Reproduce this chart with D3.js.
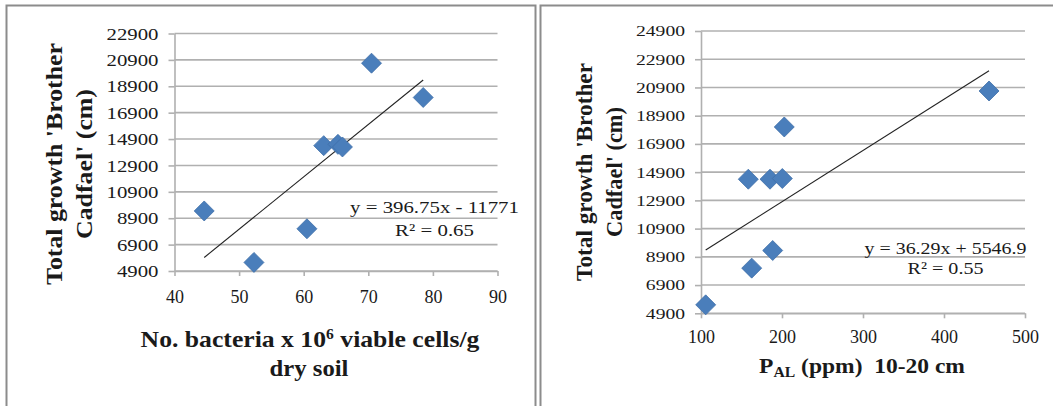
<!DOCTYPE html>
<html><head><meta charset="utf-8">
<script src="https://cdn.jsdelivr.net/npm/d3@7"></script>
<style>
body{margin:0;background:#fff}
svg{display:block}
text{font-family:"Liberation Serif","Times New Roman",Times,"DejaVu Serif",serif;fill:#1a1a1a}
</style>
</head><body>
<svg id="c" width="1053" height="406"></svg>
<script>
// ---- data ----
const bacteria = [44.6, 52.3, 60.5, 63.1, 65.3, 66.0, 70.5, 78.5];
const growthA  = [9450, 5550, 8100, 14400, 14500, 14300, 20650, 18050];
const pal      = [105.8, 158.4, 162.6, 185.2, 188.5, 200.4, 202.8, 455.6];
const growthB  = [5500, 14400, 8100, 14400, 9350, 14450, 18100, 20650];
const yTicksA  = [4900, 6900, 8900, 10900, 12900, 14900, 16900, 18900, 20900, 22900];
const yTicksB  = [4900, 6900, 8900, 10900, 12900, 14900, 16900, 18900, 20900, 22900, 24900];
const xTicksA  = [40, 50, 60, 70, 80, 90];
const xTicksB  = [100, 200, 300, 400, 500];
const trendA   = [396.75, -11771];
const trendB   = [36.29, 5546.9];
const eqA      = ["y = 396.75x - 11771", "R² = 0.65"];
const eqB      = ["y = 36.29x + 5546.9", "R² = 0.55"];
const yTitle   = ["Total growth 'Brother", "Cadfael' (cm)"];

const FONT = '"Liberation Serif","Times New Roman",Times,"DejaVu Serif",serif';
const svg = d3.select("#c");

// panel frames
svg.append("rect").attr("x",6.5).attr("y",5.5).attr("width",529).attr("height",430)
  .attr("fill","#fff").attr("stroke","#8c8c8c").attr("stroke-width",2);
svg.append("rect").attr("x",540.5).attr("y",5.5).attr("width",530).attr("height",430)
  .attr("fill","#fff").attr("stroke","#8c8c8c").attr("stroke-width",2);

function placeText(parent, o){
  const g = parent.append("g").attr("transform", `translate(${o.x},${o.y})` + (o.rot ? ` rotate(${o.rot})` : ""));
  const t = g.append("text").attr("text-anchor", o.anchor || "middle")
    .attr("font-family", FONT).style("font-family", FONT)
    .style("font-size", o.size + "px").style("font-weight", o.weight || "normal");
  if (o.build) o.build(t); else t.text(o.text);
  if (o.len) {
    const w = t.node().getComputedTextLength();
    t.attr("transform", `scale(${o.len / w},1)`);
  }
  return t;
}

function chart(cfg){
  const g = svg.append("g");
  const x = d3.scaleLinear().domain(cfg.xDom).range(cfg.xR);
  const y = d3.scaleLinear().domain(cfg.yDom).range(cfg.yR);

  // gridlines
  g.append("g").selectAll("line").data(cfg.yTicks).join("line")
    .attr("x1", cfg.xR[0]).attr("x2", cfg.xR[1])
    .attr("y1", d => y(d)).attr("y2", d => y(d))
    .attr("stroke", "#b0b0b0").attr("stroke-width", 1.6);

  // y axis
  const ya = g.append("g").attr("transform", `translate(${cfg.xR[0]},0)`)
    .call(d3.axisLeft(y).tickValues(cfg.yTicks).tickSize(6).tickSizeOuter(0).tickFormat(d3.format("d")))
    .attr("font-family", FONT);
  ya.select(".domain").attr("stroke", "#b0b0b0").attr("stroke-width", 1.6);
  ya.selectAll(".tick line").attr("stroke", "#b0b0b0").attr("stroke-width", 1.6);
  ya.selectAll(".tick text").attr("x", null).attr("dy", "0.35em")
    .attr("text-anchor", "end").attr("fill", "#1a1a1a")
    .style("font-family", FONT).style("font-size", cfg.yFont + "px")
    .attr("transform", `translate(-16,0) scale(${cfg.ySx},1)`);

  // x axis
  const xa = g.append("g").attr("transform", `translate(0,${cfg.yR[0]})`)
    .call(d3.axisBottom(x).tickValues(cfg.xTicks).tickSize(5).tickSizeOuter(0))
    .attr("font-family", FONT);
  xa.select(".domain").attr("stroke", "#b0b0b0").attr("stroke-width", 1.6);
  xa.selectAll(".tick line").attr("stroke", "#b0b0b0").attr("stroke-width", 1.6);
  xa.selectAll(".tick text").attr("y", cfg.xLabOff).attr("dy", 0).attr("fill", "#1a1a1a")
    .style("font-family", FONT).style("font-size", "18px");

  // trend line
  const xmin = d3.min(cfg.xs), xmax = d3.max(cfg.xs);
  const f = v => cfg.trend[0] * v + cfg.trend[1];
  g.append("line").attr("x1", x(xmin)).attr("y1", y(f(xmin)))
    .attr("x2", x(xmax)).attr("y2", y(f(xmax)))
    .attr("stroke", "#222").attr("stroke-width", 1.1);

  // markers
  const r = 10;
  g.append("g").selectAll("path").data(cfg.xs.map((v, i) => [v, cfg.ys[i]])).join("path")
    .attr("d", d => { const px = x(d[0]), py = y(d[1]);
      return `M${px},${py - r}L${px + r},${py}L${px},${py + r}L${px - r},${py}Z`; })
    .attr("fill", "#4a7ebb").attr("stroke", "#3f6fa8").attr("stroke-width", 0.8);

  // equation
  placeText(g, {x: cfg.eqX, y: cfg.eqY[0], text: cfg.eq[0], size: 17, len: cfg.eqLen[0]});
  placeText(g, {x: cfg.eqX, y: cfg.eqY[1], text: cfg.eq[1], size: 17, len: cfg.eqLen[1]});

  // y title
  placeText(g, {x: cfg.yt.x[0], y: cfg.yt.cy, rot: -90, text: yTitle[0], size: cfg.yt.size, weight: "bold", len: cfg.yt.len[0]});
  placeText(g, {x: cfg.yt.x[1], y: cfg.yt.cy, rot: -90, text: yTitle[1], size: cfg.yt.size, weight: "bold", len: cfg.yt.len[1]});
  return g;
}

const gA = chart({
  xDom: [40, 90], xR: [174.5, 497.5], yDom: [4900, 22900], yR: [271, 33.5],
  xTicks: xTicksA, yTicks: yTicksA, xs: bacteria, ys: growthA, trend: trendA,
  yFont: 16, ySx: 1.3, xLabOff: 31.5,
  eq: eqA, eqX: 434.5, eqY: [212.5, 236], eqLen: [169, 79],
  yt: {x: [62, 92], cy: 164, size: 23, len: [242, 150]}
});
const gB = chart({
  xDom: [100, 500], xR: [701, 1025], yDom: [4900, 24900], yR: [313.3, 31],
  xTicks: xTicksB, yTicks: yTicksB, xs: pal, ys: growthB, trend: trendB,
  yFont: 14, ySx: 1.4, xLabOff: 30,
  eq: eqB, eqX: 945.5, eqY: [253.5, 274], eqLen: [162, 76],
  yt: {x: [592, 622], cy: 172, size: 23, len: [218, 130]}
});

// x titles
placeText(gA, {x: 310, y: 347, size: 23, weight: "bold", len: 339, build: t => {
  t.append("tspan").text("No. bacteria x 10");
  t.append("tspan").attr("dy", -8).style("font-size", "14px").text("6");
  t.append("tspan").attr("dy", 8).text(" viable cells/g");
}});
placeText(gA, {x: 309, y: 376, size: 23, weight: "bold", len: 79, text: "dry soil"});
placeText(gB, {x: 862, y: 373, size: 21, weight: "bold", len: 206, build: t => {
  t.append("tspan").text("P");
  t.append("tspan").attr("dy", 4).style("font-size", "14px").text("AL");
  t.append("tspan").attr("dy", -4).text(" (ppm)\u00a0 10-20 cm");
}});
</script>
</body></html>
